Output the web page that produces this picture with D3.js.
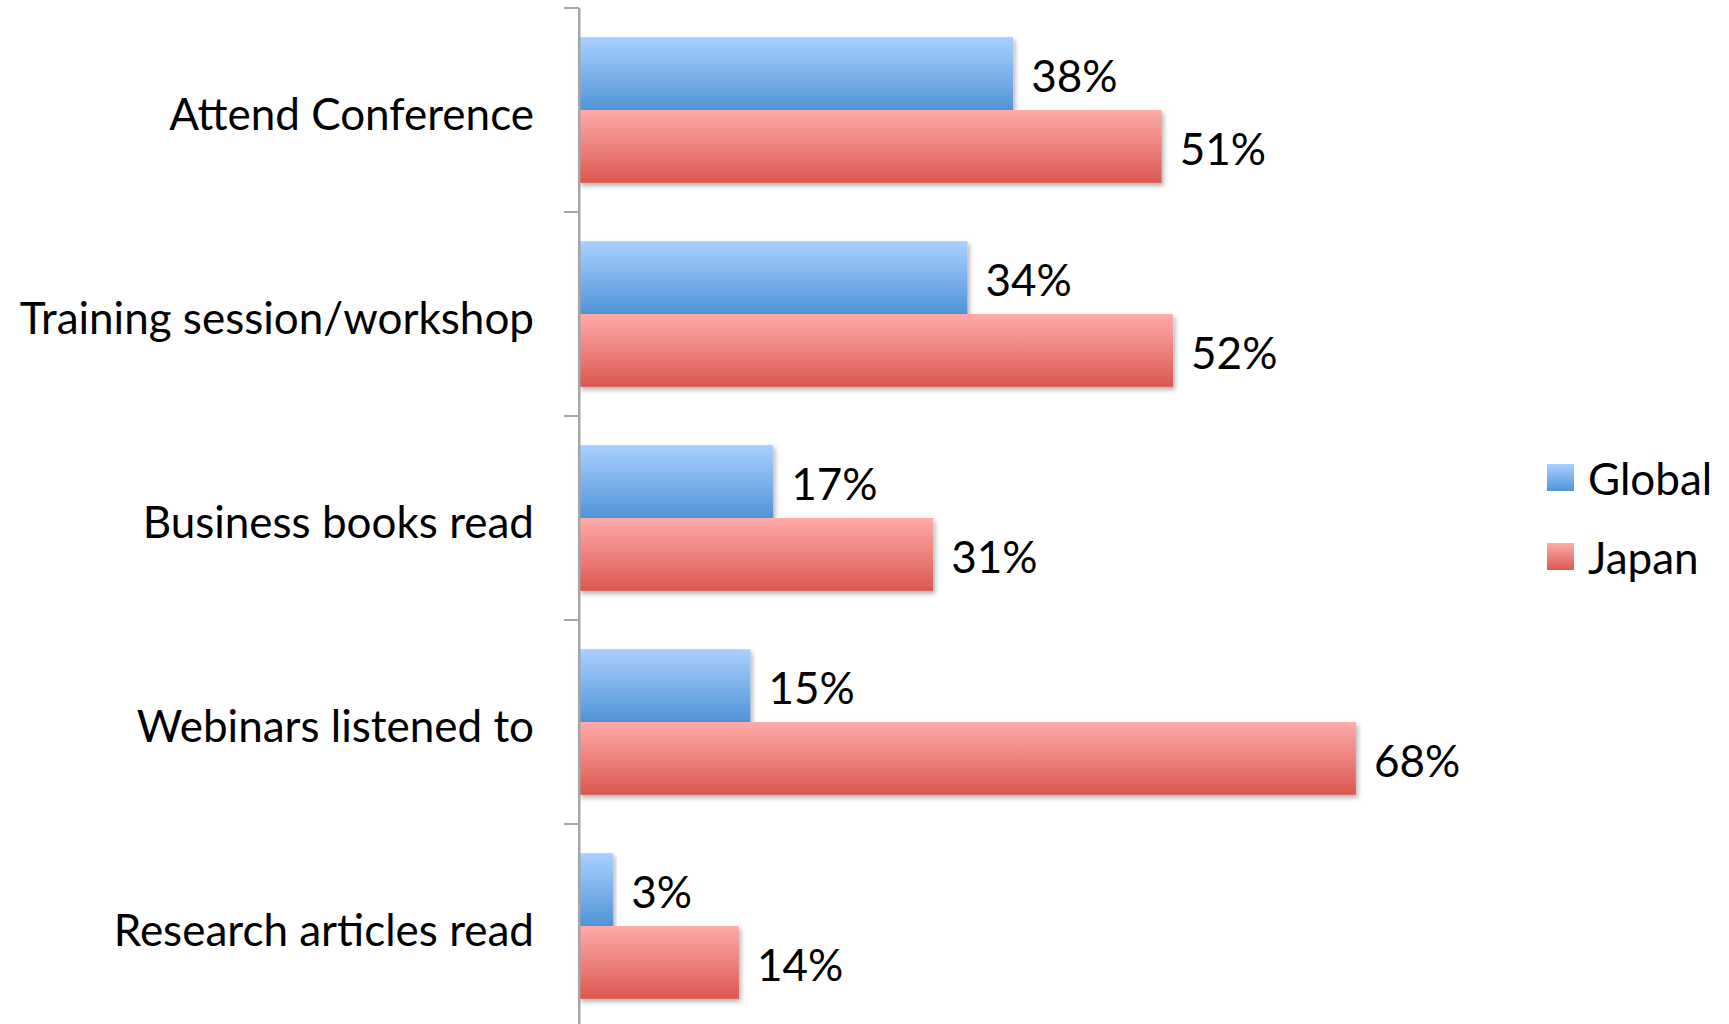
<!DOCTYPE html>
<html>
<head>
<meta charset="utf-8">
<script src="https://cdn.jsdelivr.net/npm/d3@7"></script>
<style>
  html, body { margin: 0; padding: 0; background: #fff; }
  svg { display: block; }
  text { font-family: Lato, "Noto Sans", sans-serif; fill: #000; }
</style>
</head>
<body>
<svg id="chart" width="1729" height="1024"></svg>
<script>
const categories = ["Attend Conference", "Training session/workshop", "Business books read", "Webinars listened to", "Research articles read"];
const seriesNames = ["Global", "Japan"];
const globalValues = [0.38, 0.34, 0.17, 0.15, 0.03];
const japanValues = [0.51, 0.52, 0.31, 0.68, 0.14];
const valueLabels = { Global: ["38%", "34%", "17%", "15%", "3%"], Japan: ["51%", "52%", "31%", "68%", "14%"] };

const rows = categories.map((c, i) => ({ cat: c, Global: globalValues[i], Japan: japanValues[i], i }));

const svg = d3.select("#chart");
const W = 1729, H = 1024;
const axisX = 579;
const fontSize = 44;

const y = d3.scaleBand().domain(categories).range([8, 1028]).paddingInner(0).paddingOuter(0);
const ySub = d3.scaleBand().domain(seriesNames).range([0, y.bandwidth()]).paddingInner(0).paddingOuter(0.4);
const x = d3.scaleLinear().domain([0, 0.8]).range([axisX, axisX + 914]);

const defs = svg.append("defs");
const grads = {
  Global: ["#abd0ff", "#5094d8"],
  Japan: ["#ffabaa", "#db5850"]
};
Object.entries(grads).forEach(([k, [a, b]]) => {
  const g = defs.append("linearGradient").attr("id", "g-" + k).attr("x1", 0).attr("y1", 0).attr("x2", 0).attr("y2", 1);
  g.append("stop").attr("offset", "0%").attr("stop-color", a);
  g.append("stop").attr("offset", "100%").attr("stop-color", b);
});
const f = defs.append("filter").attr("id", "shadow").attr("x", "-5%").attr("y", "-20%").attr("width", "115%").attr("height", "150%");
f.append("feDropShadow").attr("dx", 2).attr("dy", 3).attr("stdDeviation", 2.5).attr("flood-color", "#000").attr("flood-opacity", 0.3);

// bars
const groups = svg.append("g").selectAll("g").data(rows).join("g")
  .attr("transform", d => `translate(0,${y(d.cat)})`);

seriesNames.forEach(s => {
  groups.append("rect")
    .attr("x", x(0))
    .attr("y", ySub(s))
    .attr("width", d => x(d[s]) - x(0))
    .attr("height", ySub.bandwidth())
    .attr("fill", `url(#g-${s})`)
    .attr("filter", "url(#shadow)");
});

seriesNames.forEach(s => {
  groups.append("text")
    .attr("x", d => x(d[s]) + 18)
    .attr("y", ySub(s) + ySub.bandwidth() / 2 + 0.43 * fontSize)
    .attr("font-size", fontSize)
    .text(d => valueLabels[s][d.i]);
});

// axis
const axis = d3.axisLeft(y).tickSize(15).tickFormat("").tickSizeOuter(0);
const axisG = svg.append("g").attr("transform", `translate(${axisX},0)`).call(axis);
axisG.selectAll(".tick").remove();
axisG.select(".domain").attr("stroke", "#a6a6a6").attr("stroke-width", 2);
const tickPos = y.domain().map(c => y(c)).concat([y.range()[1]]);
axisG.selectAll("line.tk").data(tickPos).join("line").attr("class", "tk")
  .attr("x1", -15).attr("x2", 0).attr("y1", d => d).attr("y2", d => d)
  .attr("stroke", "#a6a6a6").attr("stroke-width", 2);
axisG.append("line").attr("x1", 0).attr("x2", 0).attr("y1", y.range()[0]).attr("y2", H).attr("stroke", "#a6a6a6").attr("stroke-width", 2);

// category labels
svg.append("g").selectAll("text").data(categories).join("text")
  .attr("x", 534)
  .attr("y", d => y(d) + y.bandwidth() / 2 + 20)
  .attr("text-anchor", "end")
  .attr("font-size", fontSize)
  .text(d => d);

// legend
const legendY = { Global: 464, Japan: 543 };
const lg = svg.append("g").selectAll("g").data(seriesNames).join("g");
lg.append("rect").attr("x", 1547).attr("y", d => legendY[d]).attr("width", 27).attr("height", 27)
  .attr("fill", d => `url(#g-${d})`);
lg.append("text").attr("x", 1588).attr("y", d => legendY[d] + 31).attr("font-size", fontSize).text(d => d);
</script>
</body>
</html>
